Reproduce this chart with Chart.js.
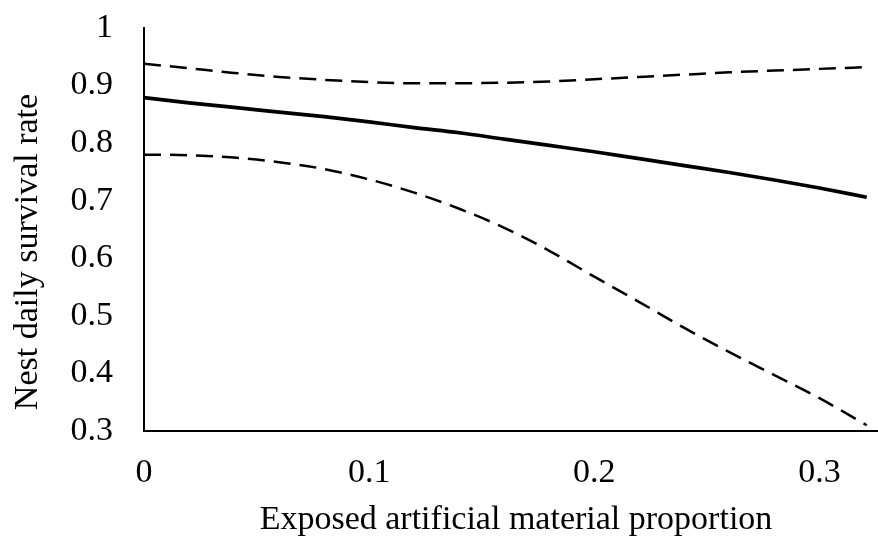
<!DOCTYPE html>
<html>
<head>
<meta charset="utf-8">
<script src="https://cdn.jsdelivr.net/npm/chart.js@4/dist/chart.umd.min.js"></script>
<style>
  html, body { margin: 0; padding: 0; background: #fff; }
  canvas { display: block; }
</style>
</head>
<body>
<canvas id="c" width="878" height="540"></canvas>
<script>
// Exposed artificial material proportion (x) and modelled nest daily survival
const proportion = [0, 0.02, 0.04, 0.06, 0.08, 0.10, 0.12, 0.14, 0.16, 0.18, 0.20, 0.22, 0.24, 0.26, 0.28, 0.30, 0.321];
const survival   = [0.879, 0.870, 0.862, 0.854, 0.846, 0.837, 0.827, 0.818, 0.807, 0.796, 0.785, 0.773, 0.761, 0.749, 0.736, 0.722, 0.706];
const upperCI    = [0.938, 0.930, 0.922, 0.915, 0.910, 0.906, 0.904, 0.904, 0.905, 0.907, 0.911, 0.915, 0.919, 0.923, 0.926, 0.929, 0.932];
const lowerCI    = [0.780, 0.779, 0.775, 0.767, 0.755, 0.737, 0.714, 0.686, 0.653, 0.613, 0.568, 0.524, 0.479, 0.437, 0.397, 0.357, 0.310];

const xTickValues = [0, 0.1, 0.2, 0.3];
const yTickValues = [0.3, 0.4, 0.5, 0.6, 0.7, 0.8, 0.9, 1];

const xTitle = 'Exposed artificial material proportion';
const yTitle = 'Nest daily survival rate';

const FONT = '"Liberation Serif", "Times New Roman", serif';
const FONT_SIZE = 34;

const toPoints = ys => proportion.map((x, i) => ({ x, y: ys[i] }));

// axis titles drawn at fixed offsets from the plot area
const axisTitles = {
  id: 'axisTitles',
  afterDraw(chart) {
    const { ctx, chartArea } = chart;
    ctx.save();
    ctx.fillStyle = '#000';
    ctx.font = FONT_SIZE + 'px ' + FONT;
    ctx.textAlign = 'center';
    ctx.textBaseline = 'alphabetic';
    ctx.fillText(xTitle, (chartArea.left + chartArea.right) / 2 + 5, 529);
    ctx.translate(37, 252);
    ctx.rotate(-Math.PI / 2);
    ctx.fillText(yTitle, 0, 0);
    ctx.restore();
  }
};

new Chart(document.getElementById('c'), {
  type: 'line',
  data: {
    datasets: [
      { data: toPoints(upperCI), borderColor: '#000', borderWidth: 2.5, borderDash: [17, 9], pointRadius: 0, fill: false, cubicInterpolationMode: 'monotone' },
      { data: toPoints(survival), borderColor: '#000', borderWidth: 3.7, pointRadius: 0, fill: false, cubicInterpolationMode: 'monotone' },
      { data: toPoints(lowerCI), borderColor: '#000', borderWidth: 2.5, borderDash: [17, 9], pointRadius: 0, fill: false, cubicInterpolationMode: 'monotone' }
    ]
  },
  options: {
    responsive: false,
    animation: false,
    devicePixelRatio: 1,
    layout: { padding: { top: 28, right: 0, bottom: 0, left: 0 } },
    plugins: { legend: { display: false }, tooltip: { enabled: false } },
    scales: {
      x: {
        type: 'linear',
        min: 0,
        max: 0.326,
        grid: { display: false, drawTicks: false },
        border: { display: true, color: '#000', width: 2 },
        afterBuildTicks: s => { s.ticks = xTickValues.map(v => ({ value: v })); },
        afterFit: s => { s.height = 109; s.paddingLeft = 0; s.paddingRight = 0; },
        ticks: {
          autoSkip: false, maxRotation: 0, padding: 22, color: '#000',
          font: { family: FONT, size: FONT_SIZE },
          callback: v => String(+v.toFixed(1))
        }
      },
      y: {
        type: 'linear',
        min: 0.3,
        max: 1,
        grid: { display: false, drawTicks: false },
        border: { display: true, color: '#000', width: 2 },
        afterBuildTicks: s => { s.ticks = yTickValues.map(v => ({ value: v })); },
        afterFit: s => { s.width = 144; s.paddingTop = 0; s.paddingBottom = 0; },
        ticks: {
          autoSkip: false, padding: 31, color: '#000',
          font: { family: FONT, size: FONT_SIZE },
          callback: v => String(+v.toFixed(1))
        }
      }
    }
  },
  plugins: [axisTitles]
});
</script>
</body>
</html>
